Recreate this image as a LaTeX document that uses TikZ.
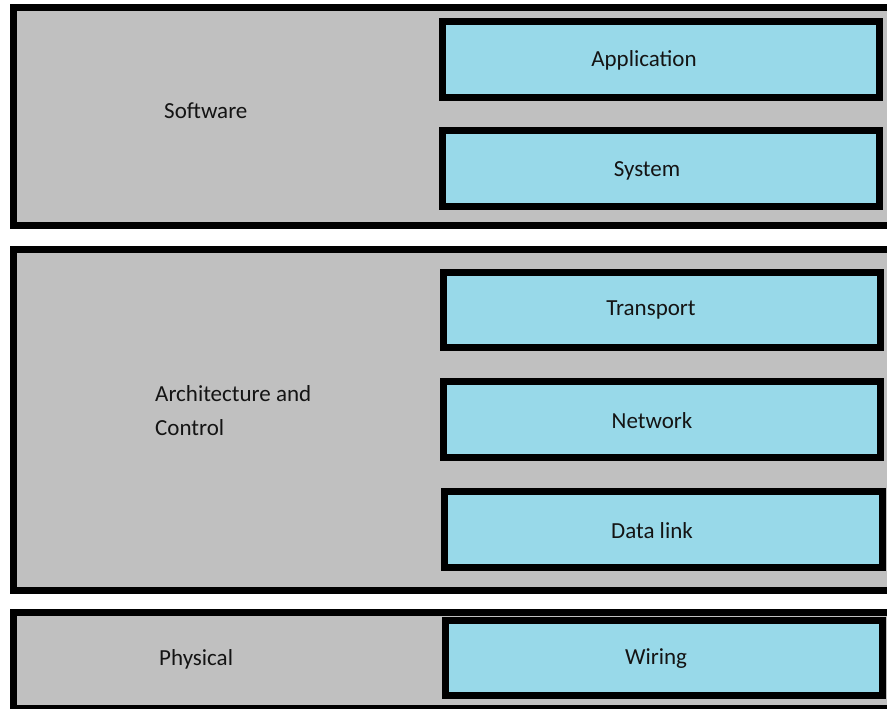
\documentclass[tikz,border=0pt]{standalone}
\usepackage{fontspec}
\setmainfont{Carlito}
\definecolor{panelgray}{RGB}{192,192,192}
\definecolor{layerblue}{RGB}{152,217,233}
\definecolor{inktext}{RGB}{20,20,20}
\begin{document}
\begin{tikzpicture}[x=1pt,y=-1pt,
  panel/.style={draw=black,line width=7pt,fill=panelgray},
  layer/.style={draw=black,line width=7pt,fill=layerblue},
  lbl/.style={font=\fontsize{23}{34}\selectfont,text=inktext,inner sep=0pt},
  sidelbl/.style={lbl,anchor=west,align=left}]
\useasboundingbox (0,0) rectangle (887,709);
\clip (0,0) rectangle (887,709);
% three horizontal bands, open to the right
\draw[panel] (13,7.5) rectangle (900,225.5);
\draw[panel] (13,249) rectangle (900,590.5);
\draw[panel] (13,612) rectangle (900,708.5);
% layer boxes
\node[layer,minimum width=437pt,minimum height=76pt] (app)   at (661,59.5)  {};
\node[layer,minimum width=437pt,minimum height=76pt] (sys)   at (661,168.5) {};
\node[layer,minimum width=437pt,minimum height=75pt] (trans) at (662,310)   {};
\node[layer,minimum width=437pt,minimum height=76pt] (net)   at (662,419.5) {};
\node[layer,minimum width=438pt,minimum height=76pt] (dl)    at (663.5,529.5) {};
\node[layer,minimum width=437pt,minimum height=75pt] (wir)   at (664,658)   {};
% layer names
\node[lbl] (tapp)   at (644,60)  {Application};
\node[lbl] (tsys)   at (647,171) {System};
\node[lbl] (ttrans) at (651,310) {Transport};
\node[lbl] (tnet)   at (652,421) {Network};
\node[lbl] (tdl)    at (652,531) {Data link};
\node[lbl] (twir)   at (656,659) {Wiring};
% band names
\node[sidelbl] (tsw)   at (164,111) {Software};
\node[sidelbl] (tac)   at (155,411) {Architecture and\\Control};
\node[sidelbl] (tph)   at (159,659) {Physical};
\end{tikzpicture}
\end{document}
